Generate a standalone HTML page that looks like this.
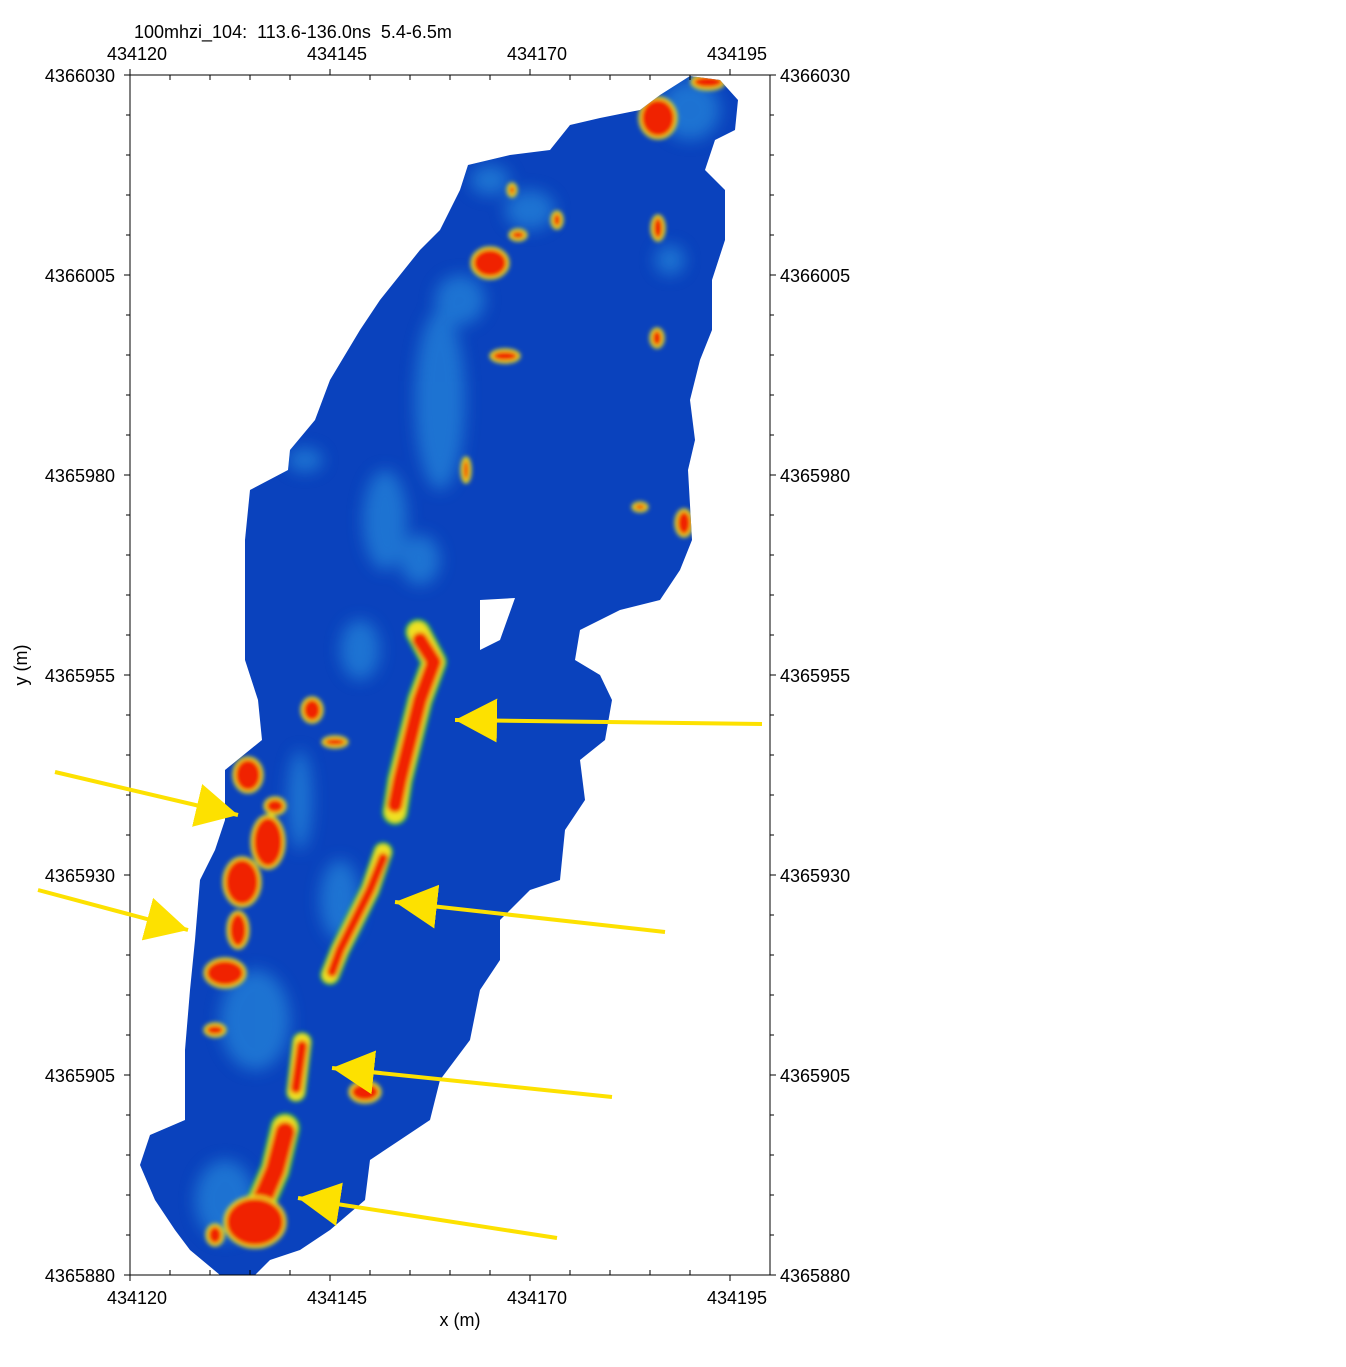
<!DOCTYPE html>
<html><head><meta charset="utf-8"><style>body{margin:0;background:#fff}svg{display:block}text{font-family:"Liberation Sans",sans-serif;font-size:18px;fill:#000}</style></head><body>
<svg width="1346" height="1367" viewBox="0 0 1346 1367">
<defs>
<filter id="b" x="-50%" y="-50%" width="200%" height="200%"><feGaussianBlur stdDeviation="8"/></filter>
<filter id="b2" x="-50%" y="-50%" width="200%" height="200%"><feGaussianBlur stdDeviation="2"/></filter>
<clipPath id="cl"><path d="M600,118 L640,110 L660,95 L690,76 L720,80 L738,100 L735,130 L715,140 L705,170 L725,190 L725,240 L712,280 L712,330 L700,360 L690,400 L695,440 L688,470 L692,540 L680,570 L660,600 L620,610 L580,630 L575,660 L600,675 L612,700 L605,740 L580,760 L585,800 L565,830 L560,880 L530,890 L500,920 L500,960 L480,990 L470,1040 L440,1080 L430,1120 L400,1140 L370,1160 L365,1200 L330,1230 L300,1250 L270,1260 L255,1275 L220,1275 L190,1250 L175,1230 L155,1200 L140,1165 L150,1135 L185,1120 L185,1050 L190,990 L195,940 L200,880 L215,850 L225,820 L225,770 L262,740 L258,700 L245,660 L245,600 L245,540 L250,490 L288,470 L290,450 L315,420 L330,380 L360,330 L380,300 L420,250 L440,230 L460,190 L468,165 L510,155 L550,150 L570,125 Z"/></clipPath>
<marker id="ah" markerUnits="userSpaceOnUse" markerWidth="50" markerHeight="50" refX="42" refY="24" orient="auto"><path d="M42,24 L0,2 L0,46 Z" fill="#fde100"/></marker>
</defs>
<g clip-path="url(#cl)">
<rect x="130" y="75" width="640" height="1200" fill="#0a42bd"/>
<g filter="url(#b)" fill="#2f9ce4" opacity="0.55">
<ellipse cx="440" cy="400" rx="25" ry="90"/><ellipse cx="385" cy="520" rx="22" ry="50"/>
<ellipse cx="460" cy="300" rx="25" ry="25"/><ellipse cx="530" cy="210" rx="25" ry="20"/>
<ellipse cx="690" cy="110" rx="30" ry="30"/><ellipse cx="360" cy="650" rx="20" ry="30"/>
<ellipse cx="255" cy="1020" rx="35" ry="50"/><ellipse cx="225" cy="1200" rx="30" ry="40"/>
<ellipse cx="300" cy="800" rx="12" ry="50"/><ellipse cx="670" cy="260" rx="15" ry="15"/>
<ellipse cx="305" cy="460" rx="18" ry="12"/><ellipse cx="490" cy="180" rx="20" ry="15"/>
<ellipse cx="340" cy="900" rx="20" ry="40"/><ellipse cx="420" cy="560" rx="20" ry="25"/>
</g>
<g filter="url(#b2)">
<g stroke="#30c040" fill="#30c040" stroke-linecap="round" stroke-linejoin="round">
<polyline points="418,632 434,662 420,700 410,740 400,780 395,812" fill="none" stroke-width="26"/>
<polyline points="383,852 370,890 355,920 340,950 330,975" fill="none" stroke-width="20"/>
<polyline points="302,1042 296,1092" fill="none" stroke-width="20"/>
<polyline points="285,1128 275,1170 262,1200 248,1232" fill="none" stroke-width="30"/>
</g>
<g stroke="#f0e020" fill="none" stroke-linecap="round" stroke-linejoin="round">
<polyline points="418,632 434,662 420,700 410,740 400,780 395,812" stroke-width="20"/>
<polyline points="383,852 370,890 355,920 340,950 330,975" stroke-width="15"/>
<polyline points="302,1042 296,1092" stroke-width="16"/>
<polyline points="285,1128 275,1170 262,1200 248,1232" stroke-width="24"/>
</g>
<g fill="none" stroke="#f02000" stroke-linecap="round" stroke-linejoin="round">
<polyline points="420,640 434,662 420,700 410,740 400,780 395,805" stroke-width="15"/>
<polyline points="383,858 370,890 355,920 340,950 332,972" stroke-width="10"/>
<polyline points="302,1046 296,1088" stroke-width="11"/>
<polyline points="285,1132 275,1170 262,1200 250,1230" stroke-width="20"/>
</g>
<g fill="#f02000" stroke="#e8e020" stroke-width="3">
<ellipse cx="658" cy="118" rx="18" ry="20"/><ellipse cx="708" cy="82" rx="16" ry="7"/>
<ellipse cx="490" cy="263" rx="18" ry="15"/><ellipse cx="505" cy="356" rx="14" ry="6"/>
<ellipse cx="658" cy="228" rx="6" ry="12"/><ellipse cx="657" cy="338" rx="6" ry="9"/>
<ellipse cx="466" cy="470" rx="4" ry="12"/><ellipse cx="684" cy="523" rx="8" ry="13"/>
<ellipse cx="312" cy="710" rx="10" ry="12"/><ellipse cx="248" cy="775" rx="14" ry="17"/>
<ellipse cx="268" cy="842" rx="16" ry="26"/><ellipse cx="242" cy="882" rx="18" ry="24"/>
<ellipse cx="238" cy="930" rx="10" ry="18"/><ellipse cx="225" cy="973" rx="20" ry="14"/>
<ellipse cx="275" cy="806" rx="10" ry="8"/><ellipse cx="365" cy="1092" rx="15" ry="10"/>
<ellipse cx="255" cy="1222" rx="30" ry="25"/><ellipse cx="215" cy="1235" rx="8" ry="10"/>
<ellipse cx="518" cy="235" rx="8" ry="5"/><ellipse cx="557" cy="220" rx="5" ry="8"/>
<ellipse cx="512" cy="190" rx="4" ry="6"/><ellipse cx="640" cy="507" rx="7" ry="4"/>
<ellipse cx="335" cy="742" rx="12" ry="5"/><ellipse cx="215" cy="1030" rx="10" ry="6"/>
</g>
</g>
</g>
<path d="M480,600 L515,598 L500,640 L480,650 Z" fill="#fff"/>
<rect x="130" y="75" width="640" height="1200" fill="none" stroke="#000" stroke-width="1"/>
<g stroke="#000" stroke-width="1">
<path d="M130,75h-6M130,275h-6M130,475h-6M130,675h-6M130,875h-6M130,1075h-6M130,1275h-6M770,75h6M770,275h6M770,475h6M770,675h6M770,875h6M770,1075h6M770,1275h6M130,75v-6M330,75v-6M530,75v-6M730,75v-6M130,1275v6M330,1275v6M530,1275v6M730,1275v6"/>
<path d="M130,115h-4M130,155h-4M130,195h-4M130,235h-4M130,315h-4M130,355h-4M130,395h-4M130,435h-4M130,515h-4M130,555h-4M130,595h-4M130,635h-4M130,715h-4M130,755h-4M130,795h-4M130,835h-4M130,915h-4M130,955h-4M130,995h-4M130,1035h-4M130,1115h-4M130,1155h-4M130,1195h-4M130,1235h-4"/>
<path d="M770,115h4M770,155h4M770,195h4M770,235h4M770,315h4M770,355h4M770,395h4M770,435h4M770,515h4M770,555h4M770,595h4M770,635h4M770,715h4M770,755h4M770,795h4M770,835h4M770,915h4M770,955h4M770,995h4M770,1035h4M770,1115h4M770,1155h4M770,1195h4M770,1235h4"/>
<path d="M170,75v5M210,75v5M250,75v5M290,75v5M370,75v5M410,75v5M450,75v5M490,75v5M570,75v5M610,75v5M650,75v5M690,75v5M170,1275v-5M210,1275v-5M250,1275v-5M290,1275v-5M370,1275v-5M410,1275v-5M450,1275v-5M490,1275v-5M570,1275v-5M610,1275v-5M650,1275v-5M690,1275v-5"/>
</g>
<text x="134" y="38">100mhzi_104:&#160; 113.6-136.0ns&#160; 5.4-6.5m</text>
<g text-anchor="middle"><text x="137" y="60">434120</text><text x="337" y="60">434145</text><text x="537" y="60">434170</text><text x="737" y="60">434195</text>
<text x="137" y="1304">434120</text><text x="337" y="1304">434145</text><text x="537" y="1304">434170</text><text x="737" y="1304">434195</text>
<text x="460" y="1326">x (m)</text></g>
<g text-anchor="end"><text x="115" y="82">4366030</text><text x="115" y="282">4366005</text><text x="115" y="482">4365980</text><text x="115" y="682">4365955</text><text x="115" y="882">4365930</text><text x="115" y="1082">4365905</text><text x="115" y="1282">4365880</text></g>
<g><text x="780" y="82">4366030</text><text x="780" y="282">4366005</text><text x="780" y="482">4365980</text><text x="780" y="682">4365955</text><text x="780" y="882">4365930</text><text x="780" y="1082">4365905</text><text x="780" y="1282">4365880</text></g>
<text transform="translate(27,665) rotate(-90)" text-anchor="middle">y (m)</text>
<g stroke="#fde100" stroke-width="4" fill="none" marker-end="url(#ah)">
<line x1="762" y1="724" x2="455" y2="720"/>
<line x1="55" y1="772" x2="238" y2="815"/>
<line x1="38" y1="890" x2="188" y2="930"/>
<line x1="665" y1="932" x2="395" y2="902"/>
<line x1="612" y1="1097" x2="332" y2="1068"/>
<line x1="557" y1="1238" x2="298" y2="1198"/>
</g>
</svg>
</body></html>
